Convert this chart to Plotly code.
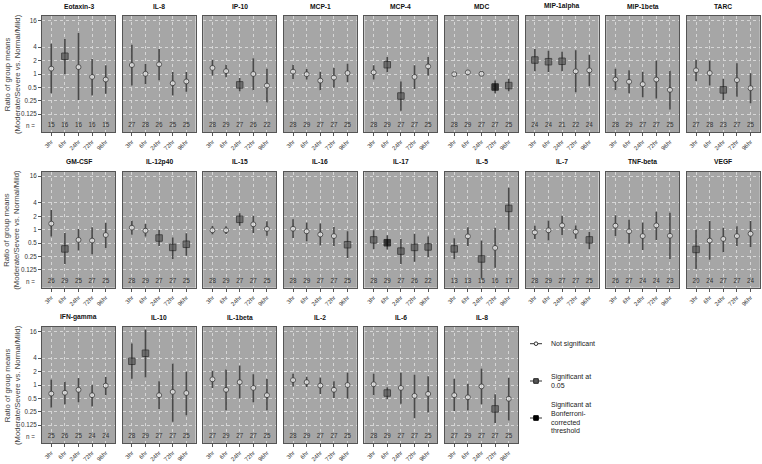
import math
import plotly.graph_objects as go

# ---------------- data ----------------
timepoints = ["3hr", "6hr", "24hr", "72hr", "96hr"]

panels = ["Eotaxin-3", "IL-8", "IP-10", "MCP-1", "MCP-4", "MDC", "MIP-1alpha", "MIP-1beta", "TARC",
          "GM-CSF", "IL-12p40", "IL-15", "IL-16", "IL-17", "IL-5", "IL-7", "TNF-beta", "VEGF",
          "IFN-gamma", "IL-10", "IL-1beta", "IL-2", "IL-6", "IL-8"]

# ratio of group means (point estimate)
ratio = [
    [1.32, 2.50, 1.43, 0.86, 0.75],
    [1.59, 1.01, 1.65, 0.62, 0.68],
    [1.37, 1.16, 0.57, 1.00, 0.55],
    [1.13, 0.99, 0.71, 0.83, 1.05],
    [1.09, 1.62, 0.32, 0.86, 1.48],
    [0.99, 1.09, 1.01, 0.51, 0.55],
    [2.06, 1.89, 1.93, 1.15, 1.21],
    [0.75, 0.67, 0.59, 0.75, 0.44],
    [1.21, 1.05, 0.44, 0.73, 0.48],
    [1.37, 0.37, 0.59, 0.57, 0.76],
    [1.11, 0.95, 0.65, 0.40, 0.47],
    [0.97, 0.97, 1.71, 1.32, 1.04],
    [1.05, 0.92, 0.78, 0.72, 0.46],
    [0.59, 0.51, 0.33, 0.40, 0.41],
    [0.37, 0.71, 0.22, 0.39, 3.01],
    [0.87, 0.97, 1.25, 0.90, 0.59],
    [1.23, 0.92, 0.72, 1.25, 0.73],
    [0.36, 0.57, 0.62, 0.72, 0.81],
    [0.64, 0.67, 0.78, 0.59, 0.97],
    [3.41, 5.17, 0.59, 0.70, 0.66],
    [1.34, 0.78, 1.16, 0.86, 0.59],
    [1.29, 1.16, 0.97, 0.78, 1.00],
    [1.04, 0.66, 0.86, 0.57, 0.63],
    [0.59, 0.53, 0.93, 0.29, 0.49],
]

# upper confidence limit
upper = [
    [4.79, 6.10, 8.34, 2.17, 1.57],
    [4.56, 1.68, 3.66, 1.11, 1.11],
    [2.10, 1.62, 0.81, 2.25, 1.32],
    [1.62, 1.29, 1.13, 1.37, 1.71],
    [1.57, 2.41, 0.68, 1.57, 2.41],
    [1.11, 1.21, 1.16, 0.71, 0.78],
    [3.66, 3.34, 3.18, 3.41, 2.71],
    [1.32, 1.21, 1.13, 2.00, 1.19],
    [2.10, 2.00, 0.78, 1.74, 1.04],
    [2.77, 0.84, 1.04, 1.13, 1.43],
    [1.59, 1.34, 0.99, 0.67, 0.83],
    [1.21, 1.19, 2.33, 2.06, 1.54],
    [1.71, 1.46, 1.37, 1.15, 0.92],
    [0.97, 0.75, 0.62, 0.81, 0.70],
    [0.64, 1.13, 0.57, 1.11, 8.75],
    [1.23, 1.62, 2.06, 1.25, 0.89],
    [2.10, 1.68, 1.46, 2.53, 2.41],
    [1.00, 1.57, 1.11, 1.19, 1.57],
    [1.32, 1.19, 1.43, 1.00, 1.52],
    [8.57, 17.75, 1.21, 3.03, 2.00],
    [2.10, 2.22, 2.73, 1.74, 1.37],
    [1.80, 1.54, 1.48, 1.21, 1.89],
    [1.80, 0.89, 1.89, 1.71, 1.57],
    [1.37, 1.07, 2.33, 0.62, 1.46],
]

# lower confidence limit
lower = [
    [0.37, 1.00, 0.26, 0.33, 0.36],
    [0.55, 0.59, 0.72, 0.33, 0.40],
    [0.92, 0.84, 0.41, 0.43, 0.23],
    [0.77, 0.75, 0.43, 0.49, 0.65],
    [0.75, 1.09, 0.15, 0.46, 0.92],
    [0.89, 0.97, 0.89, 0.37, 0.41],
    [1.16, 1.11, 1.16, 0.39, 0.53],
    [0.43, 0.37, 0.30, 0.28, 0.16],
    [0.70, 0.55, 0.26, 0.31, 0.22],
    [0.70, 0.17, 0.34, 0.28, 0.39],
    [0.77, 0.70, 0.43, 0.22, 0.26],
    [0.78, 0.80, 1.23, 0.84, 0.73],
    [0.65, 0.55, 0.44, 0.43, 0.23],
    [0.37, 0.36, 0.17, 0.19, 0.24],
    [0.22, 0.43, 0.08, 0.14, 1.00],
    [0.62, 0.57, 0.76, 0.63, 0.37],
    [0.72, 0.49, 0.35, 0.59, 0.22],
    [0.13, 0.21, 0.31, 0.43, 0.41],
    [0.31, 0.37, 0.41, 0.33, 0.59],
    [1.38, 1.48, 0.29, 0.15, 0.21],
    [0.86, 0.27, 0.50, 0.41, 0.27],
    [0.93, 0.90, 0.63, 0.51, 0.50],
    [0.59, 0.48, 0.38, 0.18, 0.24],
    [0.26, 0.27, 0.37, 0.14, 0.16],
]

# 0 = not significant, 1 = significant at 0.05, 2 = Bonferroni significant
significance = [
    [0, 1, 0, 0, 0],
    [0, 0, 0, 0, 0],
    [0, 0, 1, 0, 0],
    [0, 0, 0, 0, 0],
    [0, 1, 1, 0, 0],
    [0, 0, 0, 2, 1],
    [1, 1, 1, 0, 0],
    [0, 0, 0, 0, 0],
    [0, 0, 1, 0, 0],
    [0, 1, 0, 0, 0],
    [0, 0, 1, 1, 1],
    [0, 0, 1, 0, 0],
    [0, 0, 0, 0, 1],
    [1, 2, 1, 1, 1],
    [1, 0, 1, 0, 1],
    [0, 0, 0, 0, 1],
    [0, 0, 0, 0, 0],
    [1, 0, 0, 0, 0],
    [0, 0, 0, 0, 0],
    [1, 1, 0, 0, 0],
    [0, 0, 0, 0, 0],
    [0, 0, 0, 0, 0],
    [0, 1, 0, 0, 0],
    [0, 0, 0, 1, 0],
]

sample_n = [
    [15, 16, 16, 16, 15],
    [27, 28, 26, 25, 25],
    [28, 29, 27, 26, 22],
    [28, 29, 27, 27, 25],
    [28, 29, 27, 27, 25],
    [28, 29, 27, 27, 25],
    [24, 24, 21, 22, 24],
    [28, 29, 27, 27, 25],
    [27, 28, 23, 27, 25],
    [26, 29, 25, 27, 25],
    [28, 29, 27, 27, 25],
    [28, 29, 27, 27, 25],
    [28, 29, 27, 27, 25],
    [28, 29, 27, 26, 22],
    [13, 13, 15, 16, 17],
    [28, 29, 27, 27, 25],
    [26, 27, 24, 24, 23],
    [20, 24, 27, 27, 24],
    [25, 26, 25, 24, 24],
    [28, 29, 27, 27, 25],
    [27, 29, 27, 27, 25],
    [28, 29, 27, 27, 25],
    [28, 29, 27, 27, 25],
    [27, 29, 27, 27, 25],
]

y_ticks = [16, 4, 2, 1, 0.5, 0.25, 0.125]
y_ticktext = ["16", "4", "2", "1", "0.5", "0.25", "0.125"]
legend_labels = [["Not significant"], ["Significant at", "0.05"],
                 ["Significant at", "Bonferroni-", "corrected", "threshold"]]

# ---------------- styling / layout ----------------
W, H = 762, 464
FONT = "Liberation Sans, Arial, sans-serif"
BG = "#a6a6a6"
GRID = "#d6d6d6"
BORDER = "#555555"
TXT = "#333333"
N_LEVEL = 2 ** -3.86
YR = math.log10(2 ** 4.33)

marker_style = {
    0: dict(symbol="circle", size=5, color="white", line="#333333"),
    1: dict(symbol="square", size=6.5, color="#575757", line="#222222"),
    2: dict(symbol="square", size=6.5, color="#000000", line="#000000"),
}

col_left = [42 + c * 80.6 for c in range(9)]
panel_w = 73
row_top = [16, 171.7, 327]
panel_h = 116


def px(x):
    return x / W


def py(y):
    return 1 - y / H


fig = go.Figure()
layout = dict(width=W, height=H, margin=dict(l=0, r=0, t=0, b=0),
              paper_bgcolor="white", plot_bgcolor=BG, showlegend=False,
              font=dict(family=FONT, size=6, color=TXT))
annotations = []
shapes = []
xs = list(range(len(timepoints)))

for k, name in enumerate(panels):
    r, c = divmod(k, 9)
    ax = "" if k == 0 else str(k + 1)
    x0p, x1p = col_left[c], col_left[c] + panel_w
    y0p, y1p = row_top[r], row_top[r] + panel_h

    layout["xaxis" + ax] = dict(
        domain=[px(x0p), px(x1p)], anchor="y" + ax, range=[-0.68, 4.68],
        tickvals=xs, ticktext=timepoints, tickangle=-45, ticks="outside", ticklen=3,
        tickcolor=BORDER, tickfont=dict(size=6, color=TXT, family=FONT),
        showgrid=True, gridcolor=GRID, griddash="dot", gridwidth=1,
        showline=True, linecolor=BORDER, linewidth=1, mirror=True, zeroline=False,
        fixedrange=True)
    layout["yaxis" + ax] = dict(
        domain=[py(y1p), py(y0p)], anchor="x" + ax, type="log", range=[-YR, YR],
        tickvals=y_ticks, ticktext=y_ticktext, showticklabels=(c == 0),
        ticks="outside" if c == 0 else "", ticklen=3, tickcolor=BORDER,
        tickfont=dict(size=6.3, color=TXT, family=FONT),
        showgrid=True, gridcolor=GRID, griddash="dot", gridwidth=1,
        showline=True, linecolor=BORDER, linewidth=1, mirror=True, zeroline=False,
        fixedrange=True)

    sig = significance[k]
    m = ratio[k]
    fig.add_trace(go.Scatter(
        x=xs, y=m, mode="markers", xaxis="x" + ax, yaxis="y" + ax,
        error_y=dict(type="data", symmetric=False,
                     array=[u - v for u, v in zip(upper[k], m)],
                     arrayminus=[v - l for v, l in zip(m, lower[k])],
                     color="#4a4a4a", thickness=1.6, width=0),
        marker=dict(symbol=[marker_style[s]["symbol"] for s in sig],
                    size=[marker_style[s]["size"] for s in sig],
                    color=[marker_style[s]["color"] for s in sig],
                    line=dict(color=[marker_style[s]["line"] for s in sig], width=1)),
        hoverinfo="skip"))
    fig.add_trace(go.Scatter(
        x=xs, y=[N_LEVEL] * len(xs), mode="text", text=[str(v) for v in sample_n[k]],
        textfont=dict(size=6.3, color=TXT, family=FONT),
        xaxis="x" + ax, yaxis="y" + ax, hoverinfo="skip"))

    # reference line at ratio = 1
    shapes.append(dict(type="line", xref="x" + ax + " domain", yref="y" + ax,
                       x0=0, x1=1, y0=0, y1=0, layer="above",
                       line=dict(color="#111111", width=1, dash="dash")))
    # panel title
    annotations.append(dict(text="<b>" + name + "</b>", xref="paper", yref="paper",
                            x=px((x0p + x1p) / 2), y=py(y0p - 10), showarrow=False,
                            xanchor="center", yanchor="middle",
                            font=dict(size=6.7, color="#111111", family=FONT)))
    if c == 0:
        annotations.append(dict(text="n =", xref="paper", yref="y" + ax,
                                x=px(x0p - 5), y=math.log10(N_LEVEL), showarrow=False,
                                xanchor="right", yanchor="middle",
                                font=dict(size=6.3, color=TXT, family=FONT)))

# y-axis titles
for r in range(3):
    annotations.append(dict(
        text="Ratio of group means<br>(Moderate/Severe vs. Normal/Mild)",
        xref="paper", yref="paper", x=px(12), y=py(row_top[r] + panel_h / 2),
        showarrow=False, textangle=-90, xanchor="center", yanchor="middle",
        font=dict(size=7.7, color="#444444", family=FONT)))

# custom legend
leg_y = [343.7, 381, 418]
for i, yy in enumerate(leg_y):
    st = marker_style[i]
    shapes.append(dict(type="line", xref="paper", yref="paper",
                       x0=px(530), x1=px(542), y0=py(yy), y1=py(yy),
                       line=dict(color="#333333", width=1)))
    half = 1.8 if i == 0 else 2.3
    shapes.append(dict(type="circle" if i == 0 else "rect", xref="paper", yref="paper",
                       x0=px(536 - half), x1=px(536 + half),
                       y0=py(yy - half), y1=py(yy + half),
                       fillcolor=st["color"], line=dict(color=st["line"], width=1)))
    lines = legend_labels[i]
    nl = len(lines)
    for j, t in enumerate(lines):
        annotations.append(dict(text=t, xref="paper", yref="paper", x=px(549),
                                y=py(yy + (j - (nl - 1) / 2) * 8.6), showarrow=False,
                                xanchor="left", yanchor="middle",
                                font=dict(size=7, color="#222222", family=FONT)))

layout["annotations"] = annotations
layout["shapes"] = shapes
fig.update_layout(**layout)
fig.write_html("out.html", config={"displayModeBar": False, "staticPlot": True},
               post_script="document.body.style.margin='0';document.body.style.overflow='hidden';")
